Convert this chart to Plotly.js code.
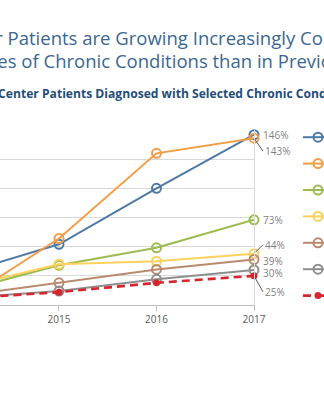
<!DOCTYPE html>
<html>
<head>
<meta charset="utf-8">
<script src="https://cdn.plot.ly/plotly-3.0.1.min.js"></script>
<style>html,body{margin:0;padding:0;background:#fff;overflow:hidden}#chart{width:324px;height:400px}</style>
</head>
<body>
<div id="chart"></div>
<script>
// ---- data ----
const years = [2014, 2015, 2016, 2017];
const tickYears = [2015, 2016, 2017];
const seriesNames = [
  "Overweight and Obesity",
  "Substance Use Disorder",
  "Depression and Other Mood Disorders",
  "Diabetes",
  "Hypertension",
  "Asthma",
  "Total Health Center Patients"
];
const overweight = [27, 52, 100, 146];
const substance  = [3, 57, 130, 143];
const depression = [12, 34, 49, 73];
const diabetes   = [15, 35, 37.5, 44];
const hypertension = [7.7, 19, 30.5, 39];
const asthma     = [6, 12, 22, 30];
const totalPatients = [5.5, 11, 19, 25];
const endLabels = ["146%", "143%", "73%", "44%", "39%", "30%", "25%"];

const titleLine1 = "Health Center Patients are Growing Increasingly Complex, with Higher";
const titleLine2 = "Rates of Chronic Conditions than in Previous Years";
const subtitle = "Growth in Health Center Patients Diagnosed with Selected Chronic Conditions, 2013-2017";

// ---- styles ----
const allSeries = [overweight, substance, depression, diabetes, hypertension, asthma, totalPatients];
const colors = ["#4e79a7", "#f39c45", "#9cbb4f", "#fbd15b", "#b98a6e", "#8e8e8e", "#d7262e"];
const FONT = "Open Sans";
const W = 324, H = 400, ML = 0, MR = 70, MT = 130, MB = 95;
const plotW = W - ML - MR, plotH = H - MT - MB;
const px2x = px => (px - ML) / plotW;
const py2y = py => (H - MB - py) / plotH;

const ctx = document.createElement("canvas").getContext("2d");
function measure(text, size, weight) {
  ctx.font = `${weight} ${size}px "${FONT}"`;
  return ctx.measureText(text).width;
}
function sizeFor(span, spanPx, weight) {
  return 20 * spanPx / measure(span, 20, weight);
}

const traces = allSeries.map((vals, i) => {
  const isTotal = i === allSeries.length - 1;
  return {
    type: "scatter",
    mode: "lines+markers",
    x: years,
    y: vals,
    name: seriesNames[i],
    cliponaxis: false,
    line: {color: colors[i], width: isTotal ? 2.6 : 2, dash: isTotal ? "8px,5px" : "solid"},
    marker: isTotal
      ? {symbol: "circle", size: 7, color: colors[i]}
      : {symbol: "circle-open", size: 9, color: colors[i], line: {width: 2, color: colors[i]}},
    hoverinfo: "skip"
  };
});

// end labels
const offsets = [
  {ax: 0, ay: 0, arrow: false},
  {ax: 9, ay: 13, arrow: true},
  {ax: 0, ay: 0, arrow: false},
  {ax: 9, ay: -9, arrow: true},
  {ax: 0, ay: 1.5, arrow: false},
  {ax: 0, ay: 2.5, arrow: false},
  {ax: 9, ay: 16, arrow: true}
];
const annotations = [];
allSeries.forEach((vals, i) => {
  const o = offsets[i];
  const a = {
    x: years[years.length - 1], y: vals[vals.length - 1], xref: "x", yref: "y",
    text: endLabels[i], xanchor: "left", yanchor: "middle",
    font: {family: FONT, size: 10, color: "#7f7f7f"}
  };
  if (o.arrow) {
    Object.assign(a, {showarrow: true, arrowhead: 0, arrowwidth: 1, arrowcolor: "#595959",
      ax: o.ax, ay: o.ay, standoff: 2});
  } else {
    Object.assign(a, {showarrow: false, xshift: 7, yshift: -o.ay});
  }
  annotations.push(a);
});

const s1 = sizeFor("Patients are Growing Increasingly", 288, 400);
const s3 = sizeFor("Patients Diagnosed with Selected Chronic", 251, 700);
const x1 = 7 - measure("Health Center ", s1, 400);
const x2 = 43 - measure("Rates of ", s1, 400);
const x3 = 41 - measure("Growth in Health Center ", s3, 700);
[[titleLine1, x1, s1, 37.5, 400, "#3a6791"], [titleLine2, x2, s1, 61, 400, "#3a6791"], [subtitle, x3, s3, 93.5, 700, "#1f4e79"]].forEach(d => {
  annotations.push({
    text: d[0], xref: "paper", yref: "paper", x: px2x(d[1]), y: py2y(d[3]),
    xanchor: "left", yanchor: "middle", showarrow: false, align: "left", borderpad: 0,
    font: {family: FONT, size: d[2], color: d[5], weight: d[4]}
  });
});

const layout = {
  width: W, height: H,
  margin: {l: ML, r: MR, t: MT, b: MB, autoexpand: false},
  paper_bgcolor: "#ffffff", plot_bgcolor: "#ffffff",
  font: {family: FONT, color: "#595959"},
  showlegend: true,
  legend: {x: px2x(298), xanchor: "left", y: py2y(119), yanchor: "top",
    bgcolor: "rgba(0,0,0,0)", font: {family: FONT, size: 18, color: "#595959"}, tracegroupgap: 0},
  xaxis: {range: [2014.395, 2017], tickvals: tickYears, ticktext: tickYears.map(String),
    ticks: "outside", ticklen: 5, tickcolor: "#bfbfbf", showgrid: false, zeroline: false,
    showline: true, linecolor: "#bfbfbf", linewidth: 1,
    tickfont: {family: FONT, size: 10, color: "#595959"}, fixedrange: true},
  yaxis: {range: [0, 150], dtick: 25, side: "right", showticklabels: false, showgrid: true,
    gridcolor: "#d9d9d9", zeroline: false, showline: true, linecolor: "#d9d9d9", fixedrange: true},
  annotations: annotations
};

Plotly.newPlot("chart", traces, layout, {staticPlot: true, displayModeBar: false});
</script>
</body>
</html>
